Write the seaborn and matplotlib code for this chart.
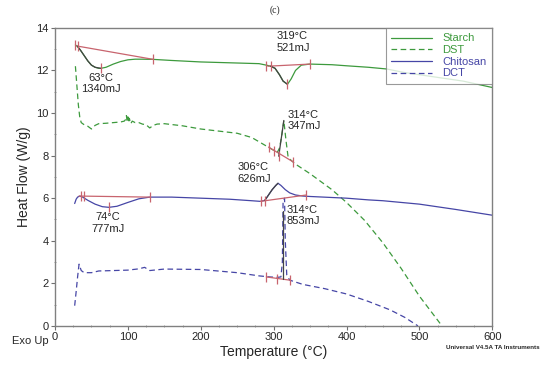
#! /usr/bin/env python3
# coding: utf-8
"""
DSC thermograms of Starch, DST, Chitosan and DCT (heat flow vs temperature)

Output:
  - out.png
"""
import numpy as np
import pandas as pd
import matplotlib.pyplot as plt
import seaborn as sb
from matplotlib.ticker import MultipleLocator

# Curves
starch_t = [28, 30, 35, 40, 45, 50, 55, 60, 63, 70, 80, 90, 100, 110, 120, 135, 160, 200, 250,
            280, 290, 296, 302, 308, 313, 319, 324, 330, 338, 350, 380, 400, 430, 455, 480, 520,
            560, 580, 600]
starch_y = [13.2, 13.15, 12.95, 12.7, 12.45, 12.25, 12.15, 12.1, 12.1, 12.15, 12.3, 12.42, 12.5,
            12.53, 12.53, 12.52, 12.47, 12.4, 12.35, 12.32, 12.25, 12.2, 12.1, 11.8, 11.5, 11.35,
            11.6, 12.0, 12.25, 12.3, 12.27, 12.22, 12.15, 12.07, 11.9, 11.7, 11.5, 11.35, 11.2]

dst_t = [28, 30, 32, 34, 36, 40, 45, 50, 55, 60, 70, 80, 90, 95, 97, 98, 99, 100, 101, 102, 104,
         106, 110, 115, 120, 125, 130, 135, 140, 150, 175, 200, 225, 250, 270, 290, 300, 305, 308,
         311, 314, 317, 320, 330, 350, 380, 400, 425, 450, 475, 500, 531]
dst_y = [12.2, 11.3, 10.4, 9.8, 9.55, 9.45, 9.38, 9.25, 9.42, 9.5, 9.52, 9.55, 9.58, 9.62, 9.7,
         9.88, 9.6, 9.82, 9.55, 9.75, 9.5, 9.62, 9.55, 9.55, 9.48, 9.45, 9.3, 9.42, 9.48, 9.5,
         9.4, 9.25, 9.15, 9.05, 8.85, 8.45, 8.25, 8.15, 8.35, 8.9, 9.65, 8.7, 7.9, 7.6, 7.15,
         6.4, 5.8, 4.95, 3.9, 2.7, 1.4, 0.0]

chitosan_t = [27, 29, 31, 34, 38, 45, 55, 65, 74, 85, 100, 115, 130, 160, 200, 240, 270, 282,
              288, 293, 298, 303, 306, 310, 316, 322, 330, 340, 350, 400, 430, 450, 500, 550, 600]
chitosan_y = [5.75, 5.95, 6.05, 6.1, 6.05, 5.9, 5.72, 5.6, 5.57, 5.62, 5.8, 5.97, 6.05, 6.05,
              6.0, 5.95, 5.88, 5.85, 5.9, 6.15, 6.4, 6.6, 6.7, 6.6, 6.4, 6.25, 6.15, 6.1, 6.08,
              6.0, 5.92, 5.88, 5.72, 5.47, 5.2]

dct_t = [27, 29, 31, 33, 36, 40, 50, 60, 80, 100, 115, 123, 130, 150, 200, 250, 280, 295, 305,
         310, 312, 313, 315, 316, 318, 322, 340, 370, 400, 430, 460, 480, 498]
dct_y = [0.95, 1.6, 2.3, 2.9, 2.6, 2.5, 2.5, 2.58, 2.6, 2.62, 2.68, 2.75, 2.6, 2.67, 2.65, 2.5,
         2.35, 2.3, 2.28, 2.3, 3.0, 5.9, 6.0, 4.0, 2.4, 2.15, 1.95, 1.75, 1.5, 1.15, 0.75, 0.4,
         0.0]

# Integration baselines (start, end) and limit ticks
baselines = [
    ((30, 13.15), (135, 12.52)),
    ((292, 12.2), (350, 12.3)),
    ((293, 8.4), (327, 7.7)),
    ((33, 6.1), (130, 6.05)),
    ((282, 5.85), (345, 6.15)),
    ((290, 2.3), (322, 2.15)),
]
limit_t = [28, 31, 135, 63, 290, 296, 350, 319, 293, 300, 308, 327, 35, 40, 130, 74, 282, 288,
           345, 290, 305, 322]
limit_y = [13.2, 13.14, 12.52, 12.1, 12.2, 12.21, 12.3, 11.35, 8.4, 8.2, 7.99, 7.7, 6.1, 6.1,
           6.05, 5.57, 5.85, 5.88, 6.15, 2.3, 2.22, 2.15]

# Peak marker segments (dark)
peak_segs = [
    ([31, 35, 40, 45, 50, 55, 63], [13.14, 12.95, 12.7, 12.45, 12.25, 12.15, 12.1]),
    ([296, 302, 308, 313, 319], [12.2, 12.1, 11.8, 11.5, 11.35]),
    ([307, 314], [7.97, 9.65]),
    ([288, 293, 298, 303, 306], [5.9, 6.15, 6.4, 6.6, 6.7]),
    ([313, 313], [2.22, 5.4]),
]

# Peak annotations
ann_text = ['63°C\n1340mJ', '319°C\n521mJ', '314°C\n347mJ', '306°C\n626mJ', '74°C\n777mJ',
            '314°C\n853mJ']
ann_t = [63, 304, 319, 250, 73, 318]
ann_y = [11.9, 13.85, 10.15, 7.7, 5.35, 5.7]
ann_ha = ['center', 'left', 'left', 'left', 'center', 'left']

GREEN = '#3d9a3d'
BLUE = '#4646a6'
RED = '#c8646e'
DARK = '#444444'
DASH = (0, (4.5, 2.8))

if __name__ == '__main__':
    sb.set_style('white')
    plt.rcParams['font.family'] = ['Liberation Sans', 'DejaVu Sans']

    fig = plt.figure(figsize=(5.5, 3.67), dpi=100)
    ax = fig.add_axes([0.1, 0.112, 0.795, 0.812])

    curves = [
        (starch_t, starch_y, 'Starch', GREEN, '-'),
        (dst_t, dst_y, 'DST', GREEN, DASH),
        (chitosan_t, chitosan_y, 'Chitosan', BLUE, '-'),
        (dct_t, dct_y, 'DCT', BLUE, DASH),
    ]
    for t, y, name, color, ls in curves:
        df = pd.DataFrame({'T': t, 'hf': y})
        sb.lineplot(data=df, x='T', y='hf', color=color, linestyle=ls, linewidth=0.9,
                    label=name, ax=ax, sort=False)

    for (x0, y0), (x1, y1) in baselines:
        ax.plot([x0, x1], [y0, y1], color=RED, linewidth=0.9)
    for t, y in peak_segs:
        ax.plot(t, y, color=DARK, linewidth=0.9)
    ax.plot(limit_t, limit_y, linestyle='none', marker='|', markersize=7, color=RED,
            markeredgewidth=0.9)

    for s, t, y, ha in zip(ann_text, ann_t, ann_y, ann_ha):
        ax.text(t, y, s, ha=ha, va='top', fontsize=8, linespacing=1.2)

    ax.set_xlim(0, 600)
    ax.set_ylim(0, 14)
    ax.xaxis.set_major_locator(MultipleLocator(100))
    ax.xaxis.set_minor_locator(MultipleLocator(25))
    ax.yaxis.set_major_locator(MultipleLocator(2))
    ax.yaxis.set_minor_locator(MultipleLocator(1))
    ax.tick_params(which='major', direction='out', length=3, width=0.8, color='#707070',
                   labelsize=8, pad=1.5, bottom=True, left=True)
    ax.tick_params(which='minor', direction='inout', length=2, width=0.6, color='#909090',
                   bottom=True, left=True)
    for sp in ax.spines.values():
        sp.set_color('#808080')
        sp.set_linewidth(1.0)

    ax.set_xlabel('Temperature (°C)', fontsize=10)
    ax.xaxis.set_label_coords(0.5, -0.065)
    ax.set_ylabel('Heat Flow (W/g)', fontsize=10, labelpad=4)

    leg = ax.legend(loc='upper right', bbox_to_anchor=(1, 1), borderaxespad=0, fontsize=8,
                    frameon=True, fancybox=False, handlelength=3.7, handletextpad=0.9,
                    labelspacing=0.15, labelcolor=[GREEN, GREEN, BLUE, BLUE],
                    borderpad=0.5)
    leg.get_frame().set_edgecolor('#808080')
    leg.get_frame().set_linewidth(0.8)

    fig.text(0.5, 0.972, '(c)', ha='center', va='center', fontsize=7,
             family='Liberation Serif')
    fig.text(0.022, 0.07, 'Exo Up', ha='left', va='center', fontsize=8)
    fig.text(0.982, 0.052, 'Universal V4.5A TA Instruments', ha='right', va='center',
             fontsize=4.5, fontweight='bold')

    fig.savefig('out.png', dpi=100)
